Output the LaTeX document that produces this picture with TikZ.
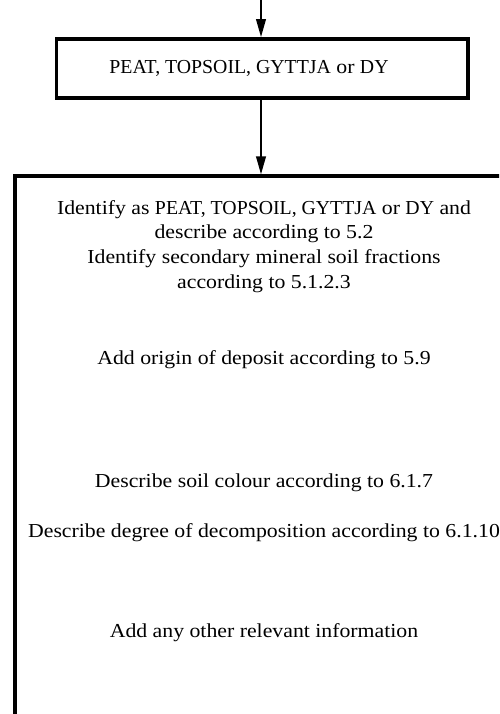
\documentclass[tikz,border=0pt]{standalone}
\usepackage{fontspec}
\setmainfont[FakeStretch=1.1]{Liberation Serif}
\newfontfamily\capsfont{Liberation Serif}
\newcommand{\soilcaps}[1]{{\capsfont #1}}
\usetikzlibrary{arrows.meta}
\usetikzlibrary{positioning}
\tikzset{flow/.style={-{Triangle[length=18pt,width=9.5pt]}, line width=2.2pt}}

\begin{document}
\begin{tikzpicture}[x=1pt, y=-1pt,
      box/.style={draw, line width=3.6pt, rectangle, inner sep=0pt},
      txt/.style={anchor=base, align=center, inner sep=0pt,
        font={\fontsize{19.8}{24.9}\selectfont}}]
      \useasboundingbox (0,0) rectangle (499,714);
      \clip (0,0) rectangle (499,714);
      
      \coordinate (in) at (261,0);
      \node[box, minimum width=411.5pt, minimum height=59pt] (peat) at (262.25,68.5) {};
      \node[txt] (peattext) at (249,74) {\soilcaps{PEAT, TOPSOIL, GYTTJA} or \soilcaps{DY}};
      \node[box, anchor=north west, minimum width=540pt, minimum height=580pt]
        (describe) at (13,174.5) {};
      
      % base of a multi-line node is its last line
      \node[txt] (identify) at (264,288.7) {Identify as \soilcaps{PEAT, TOPSOIL, GYTTJA} or \soilcaps{DY} and\\
        describe according to 5.2\\
        Identify secondary mineral soil fractions\\
        according to 5.1.2.3};
      \node[txt] (origin) at (264,364) {Add origin of deposit according to 5.9};
      \node[txt] (colour) at (264,487.3) {Describe soil colour according to 6.1.7};
      \node[txt] (decomp) at (264,537.3) {Describe degree of decomposition according to 6.1.10};
      \node[txt] (other) at (264,637.3) {Add any other relevant information};
      
      \draw[flow] (in) -- (in |- peat.north);
      \draw[flow] (in |- peat.south) -- (in |- describe.north);
    \end{tikzpicture}
\end{document}
